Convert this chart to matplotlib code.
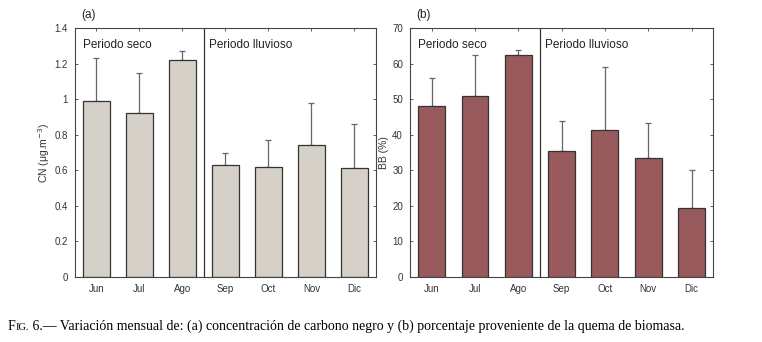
import numpy as np
import matplotlib
matplotlib.use("Agg")
import matplotlib.pyplot as plt

MONTHS = ["Jun", "Jul", "Ago", "Sep", "Oct", "Nov", "Dic"]
CN_MEAN = [0.99, 0.92, 1.22, 0.63, 0.62, 0.74, 0.615]
CN_TOP = [1.23, 1.15, 1.27, 0.70, 0.77, 0.98, 0.86]
BB_MEAN = [48.0, 50.8, 62.5, 35.5, 41.3, 33.4, 19.3]
BB_TOP = [56.0, 62.5, 63.7, 44.0, 59.0, 43.2, 30.0]

plt.rcParams["font.family"] = ["Liberation Sans", "DejaVu Sans"]

fig = plt.figure(figsize=(7.62, 3.42), dpi=100)
ax_a = fig.add_axes([0.0984, 0.190, 0.395, 0.728])
ax_b = fig.add_axes([0.538, 0.190, 0.398, 0.728])


def panel(ax, mean, top, color, ymax, step, ylabel, tag):
    x = np.arange(1, len(MONTHS) + 1)
    mean = np.array(mean)
    up = np.array(top) - mean
    ax.bar(x, mean, width=0.62, color=color, edgecolor="#333333",
           linewidth=0.9, zorder=2)
    ax.errorbar(x, mean, yerr=[np.zeros_like(up), up], fmt="none",
                ecolor="#666666", elinewidth=0.9, capsize=2, capthick=0.9,
                zorder=1)
    ax.axvline(3.5, color="#333333", linewidth=0.9)
    ax.set_xlim(0.5, 7.5)
    ax.set_ylim(0, ymax)
    ax.set_xticks(x)
    ax.set_xticklabels(MONTHS)
    ticks = np.arange(0, ymax + step / 2, step)
    ax.set_yticks(ticks)
    ax.set_yticklabels([("%g" % round(v, 2)) for v in ticks])
    ax.tick_params(direction="in", top=True, right=True, length=2.5,
                   width=0.6, labelsize=7, colors="#444444",
                   labelcolor="#333333", pad=5)
    for s in ax.spines.values():
        s.set_linewidth(0.8)
        s.set_color("#444444")
    ax.set_ylabel(ylabel, fontsize=7.5, color="#333333", labelpad=2)
    ax.text(0.025, 0.955, "Periodo seco", transform=ax.transAxes,
            fontsize=8.5, va="top", ha="left", color="#222222")
    ax.text(3.62, ymax * 0.955, "Periodo lluvioso", fontsize=8.5, va="top",
            ha="left", color="#222222")
    ax.text(0.02, 1.03, tag, transform=ax.transAxes, fontsize=8.5,
            va="bottom", ha="left", color="#222222")


panel(ax_a, CN_MEAN, CN_TOP, "#d5d0c8", 1.4, 0.2,
      "CN (\u03bcg.m$^{-3}$)", "(a)")
panel(ax_b, BB_MEAN, BB_TOP, "#985a5c", 70, 10, "BB (%)", "(b)")

# caption with small-caps "FIG."
serif = ["Liberation Serif", "DejaVu Serif"]
renderer = fig.canvas.get_renderer()
parts = [("F", 10), ("IG.", 7.6),
         (" 6.\u2014 Variaci\u00f3n mensual de: (a) concentraci\u00f3n de carbono negro y (b) "
          "porcentaje proveniente de la quema de biomasa.", 10)]
x0 = 8
for s, size in parts:
    t = fig.text(x0 / 762, 0.035, s, fontsize=size, family=serif)
    x0 += t.get_window_extent(renderer).width

fig.savefig("out.png", dpi=100)
